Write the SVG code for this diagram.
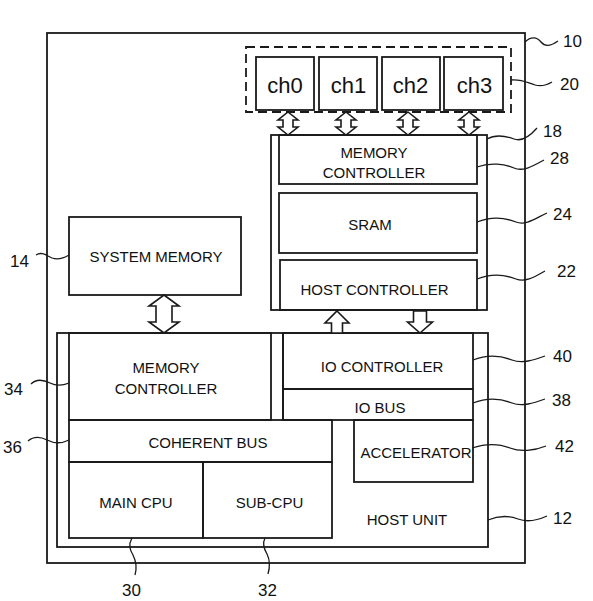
<svg xmlns="http://www.w3.org/2000/svg" width="593" height="601" viewBox="0 0 593 601">
<style>
.box{fill:none;stroke:#1a1a1a;stroke-width:1.8}
.dash{fill:none;stroke:#1a1a1a;stroke-width:1.8;stroke-dasharray:9 5}
.arr{fill:#fff;stroke:#1a1a1a;stroke-width:1.6;stroke-linejoin:miter}
.lead{fill:none;stroke:#1a1a1a;stroke-width:1.3}
.t{font-family:"Liberation Sans",Arial,sans-serif;font-size:15px;fill:#111;text-anchor:middle}
.ch{font-family:"Liberation Sans",Arial,sans-serif;font-size:22px;fill:#111;text-anchor:middle}
.n{font-family:"Liberation Sans",Arial,sans-serif;font-size:17px;fill:#111}
</style>
<rect width="593" height="601" fill="#fff"/>
<g id="system10"><rect class="box" x="47" y="33" width="478" height="530"/></g>
<g id="channels20">
<rect class="dash" x="246" y="47" width="265" height="65"/>
<g id="ch0"><rect class="box" x="256" y="57" width="58" height="53"/><text class="ch" x="285" y="93">ch0</text></g>
<g id="ch1"><rect class="box" x="319" y="57" width="58" height="53"/><text class="ch" x="348.5" y="93">ch1</text></g>
<g id="ch2"><rect class="box" x="382" y="57" width="58" height="53"/><text class="ch" x="410.5" y="93">ch2</text></g>
<g id="ch3"><rect class="box" x="444" y="57" width="59" height="53"/><text class="ch" x="474.5" y="93">ch3</text></g>
</g>
<g id="storage18">
<rect class="box" x="271" y="135" width="216" height="175"/>
<g id="memctrl28"><rect class="box" x="279" y="135" width="198" height="49"/><text class="t" x="374" y="158">MEMORY</text><text class="t" x="374" y="178">CONTROLLER</text></g>
<g id="sram24"><rect class="box" x="279" y="193" width="198" height="60"/><text class="t" x="370" y="230">SRAM</text></g>
<g id="hostctrl22"><rect class="box" x="280" y="260" width="197" height="50"/><text class="t" x="374.5" y="295">HOST CONTROLLER</text></g>
</g>
<g id="sysmem14"><rect class="box" x="69" y="217" width="172" height="78"/><text class="t" x="156" y="262">SYSTEM MEMORY</text></g>
<g id="host12">
<rect class="box" x="57" y="333" width="431" height="214"/>
<text class="t" x="407" y="525">HOST UNIT</text>
<line class="box" x1="283" y1="333" x2="283" y2="420"/>
<g id="memctrl34"><rect class="box" x="69" y="333" width="202" height="87"/><text class="t" x="166" y="373">MEMORY</text><text class="t" x="166" y="394">CONTROLLER</text></g>
<g id="iobus38"><rect class="box" x="283" y="389" width="190" height="31"/><text class="t" x="380" y="413">IO BUS</text></g>
<g id="ioctrl40"><rect class="box" x="283" y="333" width="190" height="56"/><text class="t" x="382" y="372">IO CONTROLLER</text></g>
<g id="cohbus36"><rect class="box" x="69" y="420" width="263" height="42"/><text class="t" x="208" y="448">COHERENT BUS</text></g>
<g id="maincpu30"><rect class="box" x="69" y="462" width="134" height="76"/><text class="t" x="136" y="508">MAIN CPU</text></g>
<g id="subcpu32"><rect class="box" x="203" y="462" width="129" height="76"/><text class="t" x="269.5" y="508">SUB-CPU</text></g>
<g id="accel42"><rect class="box" x="354" y="420" width="119" height="62"/><text class="t" x="416" y="458">ACCELERATOR</text></g>
</g>
<g id="connectors">
<path class="arr" d="M288,112 L298,120 L293,120 L293,127 L298,127 L288,135 L278,127 L283,127 L283,120 L278,120 Z"/>
<path class="arr" d="M346,112 L356,120 L351,120 L351,127 L356,127 L346,135 L336,127 L341,127 L341,120 L336,120 Z"/>
<path class="arr" d="M408,112 L418,120 L413,120 L413,127 L418,127 L408,135 L398,127 L403,127 L403,120 L398,120 Z"/>
<path class="arr" d="M469,112 L479,120 L474,120 L474,127 L479,127 L469,135 L459,127 L464,127 L464,120 L459,120 Z"/>
<path class="arr" d="M164,295 L179,306 L172,306 L172,322 L179,322 L164,333 L149,322 L156,322 L156,306 L149,306 Z"/>
<path class="arr" d="M337,311 L349,323 L342.5,323 L342.5,333 L331.5,333 L331.5,323 L325,323 Z"/>
<path class="arr" d="M420,333 L432.5,322 L426.5,322 L426.5,311 L413.5,311 L413.5,322 L407.5,322 Z"/>
<path class="lead" d="M525,42 C531,36 537,37 541,42 C545,47 551,46 558,41"/>
<path class="lead" d="M511,80 C522,79 528,83 535,85 C542,87 547,85 552,82"/>
<path class="lead" d="M487,139 C496,134 506,136 514,139 C522,142 530,136 537,128"/>
<path class="lead" d="M477,167 C490,162 505,164 514,168 C523,172 533,166 544,160"/>
<path class="lead" d="M477,222 C492,216 506,218 516,222 C526,226 536,218 547,213"/>
<path class="lead" d="M477,279 C492,273 506,275 516,279 C526,283 536,276 545,271"/>
<path class="lead" d="M473,360 C488,354 502,356 512,360 C522,364 534,360 545,356"/>
<path class="lead" d="M473,403 C488,397 502,399 512,403 C522,407 534,403 545,399"/>
<path class="lead" d="M472,448 C487,443 500,444 510,448 C520,452 534,451 546,446"/>
<path class="lead" d="M488,520 C500,515 510,516 518,519 C526,522 536,521 547,516"/>
<path class="lead" d="M36,255 C42,251 47,256 52,258 C58,260 64,258 69,255"/>
<path class="lead" d="M31,384 C37,378 44,380 50,383 C56,386 62,386 69,383"/>
<path class="lead" d="M28,441 C34,436 41,437 47,440 C53,443 61,444 69,440"/>
<path class="lead" d="M132,538 C128,545 130,550 133,555 C136,561 137,568 135,575"/>
<path class="lead" d="M265,538 C262,544 264,549 267,554 C270,560 270,567 268,574"/>
</g>
<g id="labels">
<text class="n" x="563" y="47">10</text>
<text class="n" x="560" y="90">20</text>
<text class="n" x="543" y="137">18</text>
<text class="n" x="550" y="164">28</text>
<text class="n" x="553" y="220">24</text>
<text class="n" x="557" y="277">22</text>
<text class="n" x="553" y="362">40</text>
<text class="n" x="552" y="406">38</text>
<text class="n" x="555" y="452">42</text>
<text class="n" x="553" y="524">12</text>
<text class="n" x="10" y="267">14</text>
<text class="n" x="4" y="395">34</text>
<text class="n" x="3" y="453">36</text>
<text class="n" x="122" y="596">30</text>
<text class="n" x="258" y="596">32</text>
</g>
</svg>
